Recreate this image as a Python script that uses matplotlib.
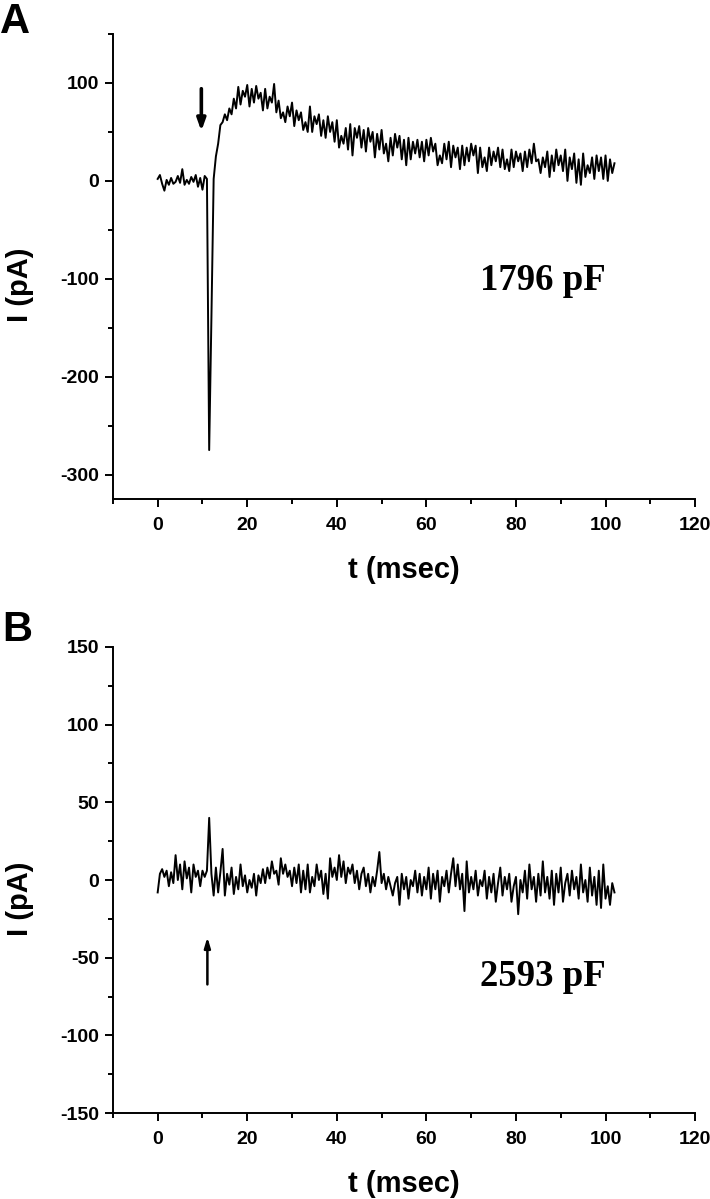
import numpy as np
import matplotlib
matplotlib.use("Agg")
import matplotlib.pyplot as plt
from matplotlib.ticker import MultipleLocator

plt.rcParams['font.family'] = ['Liberation Sans', 'DejaVu Sans']
plt.rcParams['font.weight'] = 'bold'
plt.rcParams['axes.unicode_minus'] = False

# sampling step of both traces (msec)
dt = 0.5

# panel A: current trace, 1796 pF
current_a = [2, 6, -3, -10, 1, -4, 3, -3, -1, 5, -2, 12, -4, 1, -3, 4, -1, 6, -6, 3, -9, 5, 2,
             -275, -140, 2,
             25, 38, 57, 60, 68, 62, 74, 68, 84, 74, 96, 78, 92, 86, 98, 76, 94, 80, 97, 84, 90, 72,
             94, 74, 86, 80, 99, 70, 82, 64, 70, 60, 76, 66, 80, 56, 72, 62, 70, 52, 60, 50, 76, 50,
             66, 58, 68, 46, 62, 44, 66, 50, 60, 40, 62, 34, 46, 38, 54, 32, 58, 26, 54, 44, 56, 34,
             52, 30, 54, 40, 50, 24, 48, 32, 52, 28, 38, 20, 44, 26, 48, 34, 46, 22, 42, 16, 44, 22,
             40, 28, 42, 24, 40, 20, 42, 26, 44, 30, 38, 16, 26, 18, 38, 22, 40, 14, 36, 24, 34, 12,
             36, 16, 34, 20, 38, 26, 36, 8, 34, 14, 24, 10, 34, 16, 30, 20, 34, 14, 32, 12, 22, 10,
             32, 14, 30, 20, 28, 10, 30, 14, 32, 18, 38, 20, 22, 8, 24, 14, 30, 4, 26, 10, 32, 16, 26,
             10, 32, 0, 24, 12, 28, -2, 22, -4, 28, 4, 16, 8, 24, 2, 26, 10, 24, 2, 26, 0, 22, 8, 18]

# panel B: current trace, 2593 pF
current_b = [-8, 4, 7, 2, 6, -4, 5, -2, 16, 0, 10, -6, 12, 1, 8, -8, 10, 2, 6, -4, 6, 2, 6, 40,
             4, -10, 8, -8, 5, 20, -10, 4, -3, 8, -9, 2, -6, 10, -4, 3, -8, 0, -5, 4, -10, 3, -2, 7,
             -2, 8, 1, 12, 4, 6, -3, 14, 4, 10, 2, 6, -4, 8, -2, 10, -8, 6, -6, 10, -8, 2, -4, 10,
             0, 6, -9, 4, -12, 14, 2, 8, 0, 16, 2, 12, -2, 8, 4, 10, -2, 6, -6, 4, 8, -4, 4, -8, 2,
             -4, 6, 18, -2, 4, -6, 2, -4, -10, -2, 2, -16, 4, -6, 2, -12, 0, -4, 6, -8, 4, -10, 2,
             -6, 8, -12, 4, -6, 6, -14, 2, -4, 6, -8, 4, 14, -4, 10, -6, 4, -20, 12, -8, 2, -6, 6,
             -10, 0, -4, 6, -12, 2, -8, 4, -14, -2, 8, -10, 2, -6, 4, -14, -4, 2, -22, 0, -8, 6, -12,
             10, -6, 2, -14, 4, -10, 12, -8, 2, -12, 6, -16, 4, -8, 8, -14, -2, 4, -10, 6, -6, 2,
             -12, 10, -8, 0, -14, 8, -10, 2, -16, 6, -18, 10, -12, -4, -16, -2, -8]

t_a = np.arange(len(current_a)) * dt
t_b = np.arange(len(current_b)) * dt

fig = plt.figure(figsize=(7.1, 11.99), dpi=100)
ax_a = fig.add_axes([0.159, 0.5838, 0.820, 0.3878])
ax_b = fig.add_axes([0.159, 0.0717, 0.820, 0.3887])


def format_axes(ax, ylim, ymajor, yminor):
    ax.set_xlim(-10, 120)
    ax.set_ylim(*ylim)
    ax.xaxis.set_major_locator(MultipleLocator(20))
    ax.xaxis.set_minor_locator(MultipleLocator(10))
    ax.yaxis.set_major_locator(MultipleLocator(ymajor))
    ax.yaxis.set_minor_locator(MultipleLocator(yminor))
    for side in ['top', 'right']:
        ax.spines[side].set_visible(False)
    for side in ['left', 'bottom']:
        ax.spines[side].set_linewidth(1.4)
    ax.tick_params(which='major', direction='out', length=6, width=1.4, labelsize=14)
    ax.tick_params(which='minor', direction='out', length=3.5, width=1.4)
    ax.tick_params(axis='x', which='major', pad=7)
    ax.tick_params(axis='y', which='major', pad=4)
    for lab in ax.get_xticklabels() + ax.get_yticklabels():
        lab.set_fontweight('bold')
    ax.set_xlabel('t (msec)', fontsize=21, fontweight='bold')
    ax.set_ylabel('I (pA)', fontsize=21, fontweight='bold')
    ax.xaxis.set_label_coords(0.5, -0.122)
    ax.yaxis.set_label_coords(-0.135, 0.46)


# panel A
ax_a.plot(t_a, current_a, color='black', lw=1.4)
format_axes(ax_a, (-325, 150), 100, 50)
ax_a.annotate('', xy=(9.75, 48), xytext=(9.75, 97),
              arrowprops=dict(arrowstyle='-|>,head_width=0.25,head_length=0.7', lw=2.6, color='black'))
ax_a.text(86, -102, '1796 pF', fontsize=26.5, fontweight='bold', family='Liberation Serif',
          ha='center', va='center')
fig.text(0.0, 0.998, 'A', fontsize=30, fontweight='bold', ha='left', va='top')

# panel B
ax_b.plot(t_b, current_b, color='black', lw=1.4)
format_axes(ax_b, (-150, 150), 50, 25)
ax_b.annotate('', xy=(11.1, -35), xytext=(11.1, -69),
              arrowprops=dict(arrowstyle='-|>,head_width=0.18,head_length=0.6', lw=1.8, color='black'))
ax_b.text(86, -62, '2593 pF', fontsize=26.5, fontweight='bold', family='Liberation Serif',
          ha='center', va='center')
fig.text(0.003, 0.4915, 'B', fontsize=30, fontweight='bold', ha='left', va='top')

fig.savefig('out.png', dpi=100)
